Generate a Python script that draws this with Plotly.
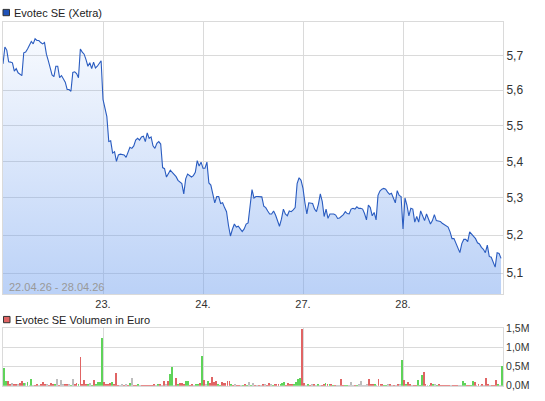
import math
import plotly.graph_objects as go

# ---------------- data ----------------
tick_labels = ["23.", "24.", "27.", "28."]
date_range_text = "22.04.26 - 28.04.26"

price_d1 = [5.676, 5.725, 5.716, 5.682, 5.681, 5.679, 5.655, 5.662, 5.650, 5.645, 5.642, 5.708,
            5.710, 5.719, 5.731, 5.741, 5.734, 5.749, 5.744, 5.744, 5.738, 5.734, 5.738, 5.704,
            5.685, 5.667, 5.644, 5.639, 5.669, 5.669, 5.636, 5.642, 5.634, 5.623, 5.602, 5.602,
            5.597, 5.651, 5.653, 5.648, 5.636, 5.719, 5.710, 5.704, 5.688, 5.669, 5.679, 5.662,
            5.681, 5.664, 5.669, 5.676, 5.685]
price_d2 = [5.574, 5.551, 5.525, 5.455, 5.457, 5.423, 5.427, 5.400, 5.418, 5.420, 5.420, 5.418,
            5.411, 5.425, 5.439, 5.436, 5.443, 5.459, 5.464, 5.459, 5.468, 5.470, 5.455, 5.479,
            5.464, 5.468, 5.443, 5.436, 5.450, 5.455, 5.448, 5.383, 5.380, 5.357, 5.365, 5.376,
            5.370, 5.365, 5.358, 5.348, 5.343, 5.339, 5.311, 5.352, 5.365, 5.361, 5.357, 5.361,
            5.370, 5.402, 5.387, 5.398]
price_d3 = [5.381, 5.381, 5.398, 5.341, 5.335, 5.311, 5.287, 5.304, 5.304, 5.285, 5.287, 5.274,
            5.263, 5.226, 5.198, 5.216, 5.230, 5.222, 5.224, 5.217, 5.210, 5.217, 5.230, 5.233,
            5.274, 5.323, 5.300, 5.304, 5.304, 5.304, 5.303, 5.278, 5.274, 5.265, 5.257, 5.257,
            5.265, 5.254, 5.239, 5.224, 5.243, 5.270, 5.257, 5.252, 5.265, 5.263, 5.268, 5.274,
            5.339, 5.355, 5.348]
price_d4 = [5.326, 5.287, 5.257, 5.287, 5.287, 5.285, 5.270, 5.263, 5.283, 5.311, 5.291, 5.250,
            5.270, 5.245, 5.257, 5.257, 5.257, 5.254, 5.245, 5.246, 5.250, 5.255, 5.263, 5.258,
            5.257, 5.270, 5.272, 5.270, 5.276, 5.272, 5.272, 5.270, 5.258, 5.241, 5.281, 5.274,
            5.252, 5.261, 5.241, 5.307, 5.319, 5.324, 5.326, 5.324, 5.316, 5.310, 5.313, 5.300,
            5.287, 5.320, 5.307, 5.304]
price_d5 = [5.217, 5.300, 5.281, 5.252, 5.272, 5.270, 5.235, 5.250, 5.235, 5.265, 5.252, 5.239,
            5.257, 5.243, 5.230, 5.239, 5.255, 5.239, 5.239, 5.237, 5.232, 5.229, 5.226, 5.222,
            5.209, 5.191, 5.191, 5.180, 5.168, 5.154, 5.178, 5.189, 5.189, 5.183, 5.209, 5.204,
            5.197, 5.191, 5.180, 5.177, 5.168, 5.163, 5.154, 5.174, 5.144, 5.142, 5.131, 5.116,
            5.154, 5.152, 5.139]

# volume in thousand euro; direction: u = up (green), d = down (red), n = unchanged (grey)
vol_d1 = [448, 112, 112, 35, 60, 35, 43, 25, 60, 112, 60, 69, 86, 15, 164, 15, 15, 43, 15, 35,
          86, 35, 35, 15, 60, 25, 43, 164, 15, 138, 43, 43, 43, 43, 15, 164, 35, 60, 43, 759,
          35, 138, 43, 43, 78, 15, 138, 43, 86, 86, 1250]
dir_d1 = "uuddnddnddunununddndddndddundnnddnundduddddunuduuuu"
vol_d2 = [86, 43, 43, 69, 86, 43, 319, 15, 15, 35, 15, 35, 15, 60, 190, 15, 15, 35, 15, 15,
          15, 15, 15, 15, 15, 35, 15, 35, 25, 15, 112, 35, 112, 293, 474, 15, 190, 35, 60, 60,
          35, 112, 112, 15, 35, 15, 35, 35, 60, 784]
dir_d2 = "ddddudddnndndunddundddddddnudndnduunduddduuddnuudu"
vol_d3 = [138, 43, 112, 60, 215, 86, 112, 43, 15, 86, 60, 60, 112, 112, 35, 15, 35, 15, 15, 15,
          15, 35, 15, 86, 15, 60, 15, 15, 15, 15, 35, 35, 15, 60, 35, 15, 35, 35, 35, 35,
          60, 86, 15, 60, 35, 35, 35, 86, 164, 190, 1483]
dir_d3 = "dnudddduudddddudnddnudunundndndnddnuddduuudddduuuud"
vol_d4 = [60, 15, 35, 15, 35, 35, 15, 35, 15, 15, 35, 60, 35, 35, 35, 15, 15, 15, 15, 164,
          15, 15, 15, 15, 86, 15, 15, 15, 35, 112, 15, 15, 35, 164, 35, 35, 35, 15, 164, 35,
          35, 15, 15, 35, 35, 15, 15, 15, 35, 35, 681]
dir_d4 = "dnudndnunddudududnndduunnndunnnnndddunddduundndndnun"
vol_d5 = [138, 35, 86, 35, 15, 15, 15, 138, 15, 267, 345, 35, 15, 15, 60, 35, 35, 15, 35, 15,
          15, 15, 15, 15, 15, 15, 15, 15, 15, 15, 112, 60, 15, 15, 15, 112, 86, 15, 35, 15,
          35, 15, 190, 35, 15, 15, 15, 138, 35, 15, 508]
dir_d5 = "duddndduuuddnudunuddddddndddnnuudduudndndnddndddunud"

price_days = [price_d1, price_d2, price_d3, price_d4, price_d5]
vol_days = [vol_d1, vol_d2, vol_d3, vol_d4, vol_d5]
dir_days = [dir_d1, dir_d2, dir_d3, dir_d4, dir_d5]

price_ticks = [5.1, 5.2, 5.3, 5.4, 5.5, 5.6, 5.7]
vol_ticks = [0, 500000, 1000000, 1500000]
vol_tick_text = ["0,0M", "0,5M", "1,0M", "1,5M"]

# ---------------- build series ----------------
px, py = [], []
for d, vals in enumerate(price_days):
    n = len(vals)
    for i, v in enumerate(vals):
        px.append(d + i / n)
        py.append(v)

vx, vy, vc = [], [], []
colmap = {"u": "#5fd35a", "d": "#e06464", "n": "#bdbdbd"}
for d, (vals, dirs) in enumerate(zip(vol_days, dir_days)):
    n = len(vals)
    for i, v in enumerate(vals):
        vx.append(d + (i + 0.5) / n)
        vy.append(v * 1000)
        vc.append(colmap[dirs[i] if i < len(dirs) else "n"])

W, H = 545, 401
L, R = 3, 503
P_TOP, P_BOT = 16, 297
V_TOP, V_BOT = 332, 391.5
GRID = "#dadada"
FONT = "Liberation Sans, Arial, sans-serif"

fig = go.Figure()
fig.add_trace(go.Scatter(x=px, y=[5.0] * len(px), mode="lines", line=dict(width=0),
                         hoverinfo="skip", showlegend=False))
fig.add_trace(go.Scatter(
    x=px, y=py, mode="lines", line=dict(color="#2a5cc0", width=1.1),
    fill="tonexty",
    fillgradient=dict(type="vertical",
                      colorscale=[[0, "rgba(110,158,238,0.50)"], [1, "rgba(110,158,238,0.06)"]]),
    showlegend=False))
fig.add_trace(go.Bar(x=vx, y=vy, marker=dict(color=vc, line=dict(width=0)), width=0.009,
                     xaxis="x2", yaxis="y2", showlegend=False))

fig.update_layout(
    width=W, height=H, margin=dict(l=0, r=0, t=0, b=0),
    paper_bgcolor="white", plot_bgcolor="white",
    font=dict(family=FONT, size=11, color="#333"),
    xaxis=dict(domain=[L / W, R / W], range=[0, 5], tickvals=[1, 2, 3, 4], ticktext=tick_labels,
               showgrid=True, gridcolor=GRID, showline=True, linecolor=GRID, mirror=True,
               zeroline=False, ticks="", tickfont=dict(size=11, color="#333"), anchor="y"),
    yaxis=dict(domain=[1 - P_BOT / H, 1 - P_TOP / H], type="log",
               range=[math.log10(5.046), math.log10(5.80)], side="right",
               tickvals=price_ticks, ticktext=[f"{t:.1f}".replace(".", ",") for t in price_ticks],
               showgrid=True, gridcolor=GRID, showline=True, linecolor=GRID, mirror=True,
               zeroline=False, ticks="", tickfont=dict(size=12, color="#333"), anchor="x"),
    xaxis2=dict(domain=[L / W, R / W], range=[0, 5], tickvals=[1, 2, 3, 4], showticklabels=False,
                showgrid=True, gridcolor=GRID, showline=True, linecolor=GRID, mirror=True,
                zeroline=False, ticks="", anchor="y2"),
    yaxis2=dict(domain=[1 - V_BOT / H, 1 - V_TOP / H], range=[0, 1500000], side="right",
                tickvals=vol_ticks, ticktext=vol_tick_text,
                showgrid=True, gridcolor=GRID, showline=True, linecolor=GRID, mirror=True,
                zeroline=False, ticks="", tickfont=dict(size=10.5, color="#333"), anchor="x2"),
    bargap=0,
)

fig.add_shape(type="rect", xref="paper", yref="paper", x0=3 / W, x1=9.5 / W,
              y0=1 - 10 / H, y1=1 - 3.5 / H, fillcolor="#1f52b8", line=dict(color="#333", width=1))
fig.add_shape(type="rect", xref="paper", yref="paper", x0=3.5 / W, x1=10 / W,
              y0=1 - 326.5 / H, y1=1 - 320 / H, fillcolor="#e06464", line=dict(color="#333", width=1))
fig.add_annotation(x=12 / W, y=1 - 7 / H, xref="paper", yref="paper", xanchor="left",
                   yanchor="middle", text="Evotec SE (Xetra)", showarrow=False,
                   font=dict(size=11, color="#222"))
fig.add_annotation(x=13 / W, y=1 - 323.3 / H, xref="paper", yref="paper", xanchor="left",
                   yanchor="middle", text="Evotec SE Volumen in Euro", showarrow=False,
                   font=dict(size=11, color="#222"))
fig.add_annotation(x=7 / W, y=1 - 290 / H, xref="paper", yref="paper", xanchor="left",
                   yanchor="middle", text=date_range_text, showarrow=False,
                   font=dict(size=11, color="#999"))

fig.write_html("out.html", config={"displayModeBar": False},
               post_script="document.body.style.margin='0';document.body.style.padding='0';")
